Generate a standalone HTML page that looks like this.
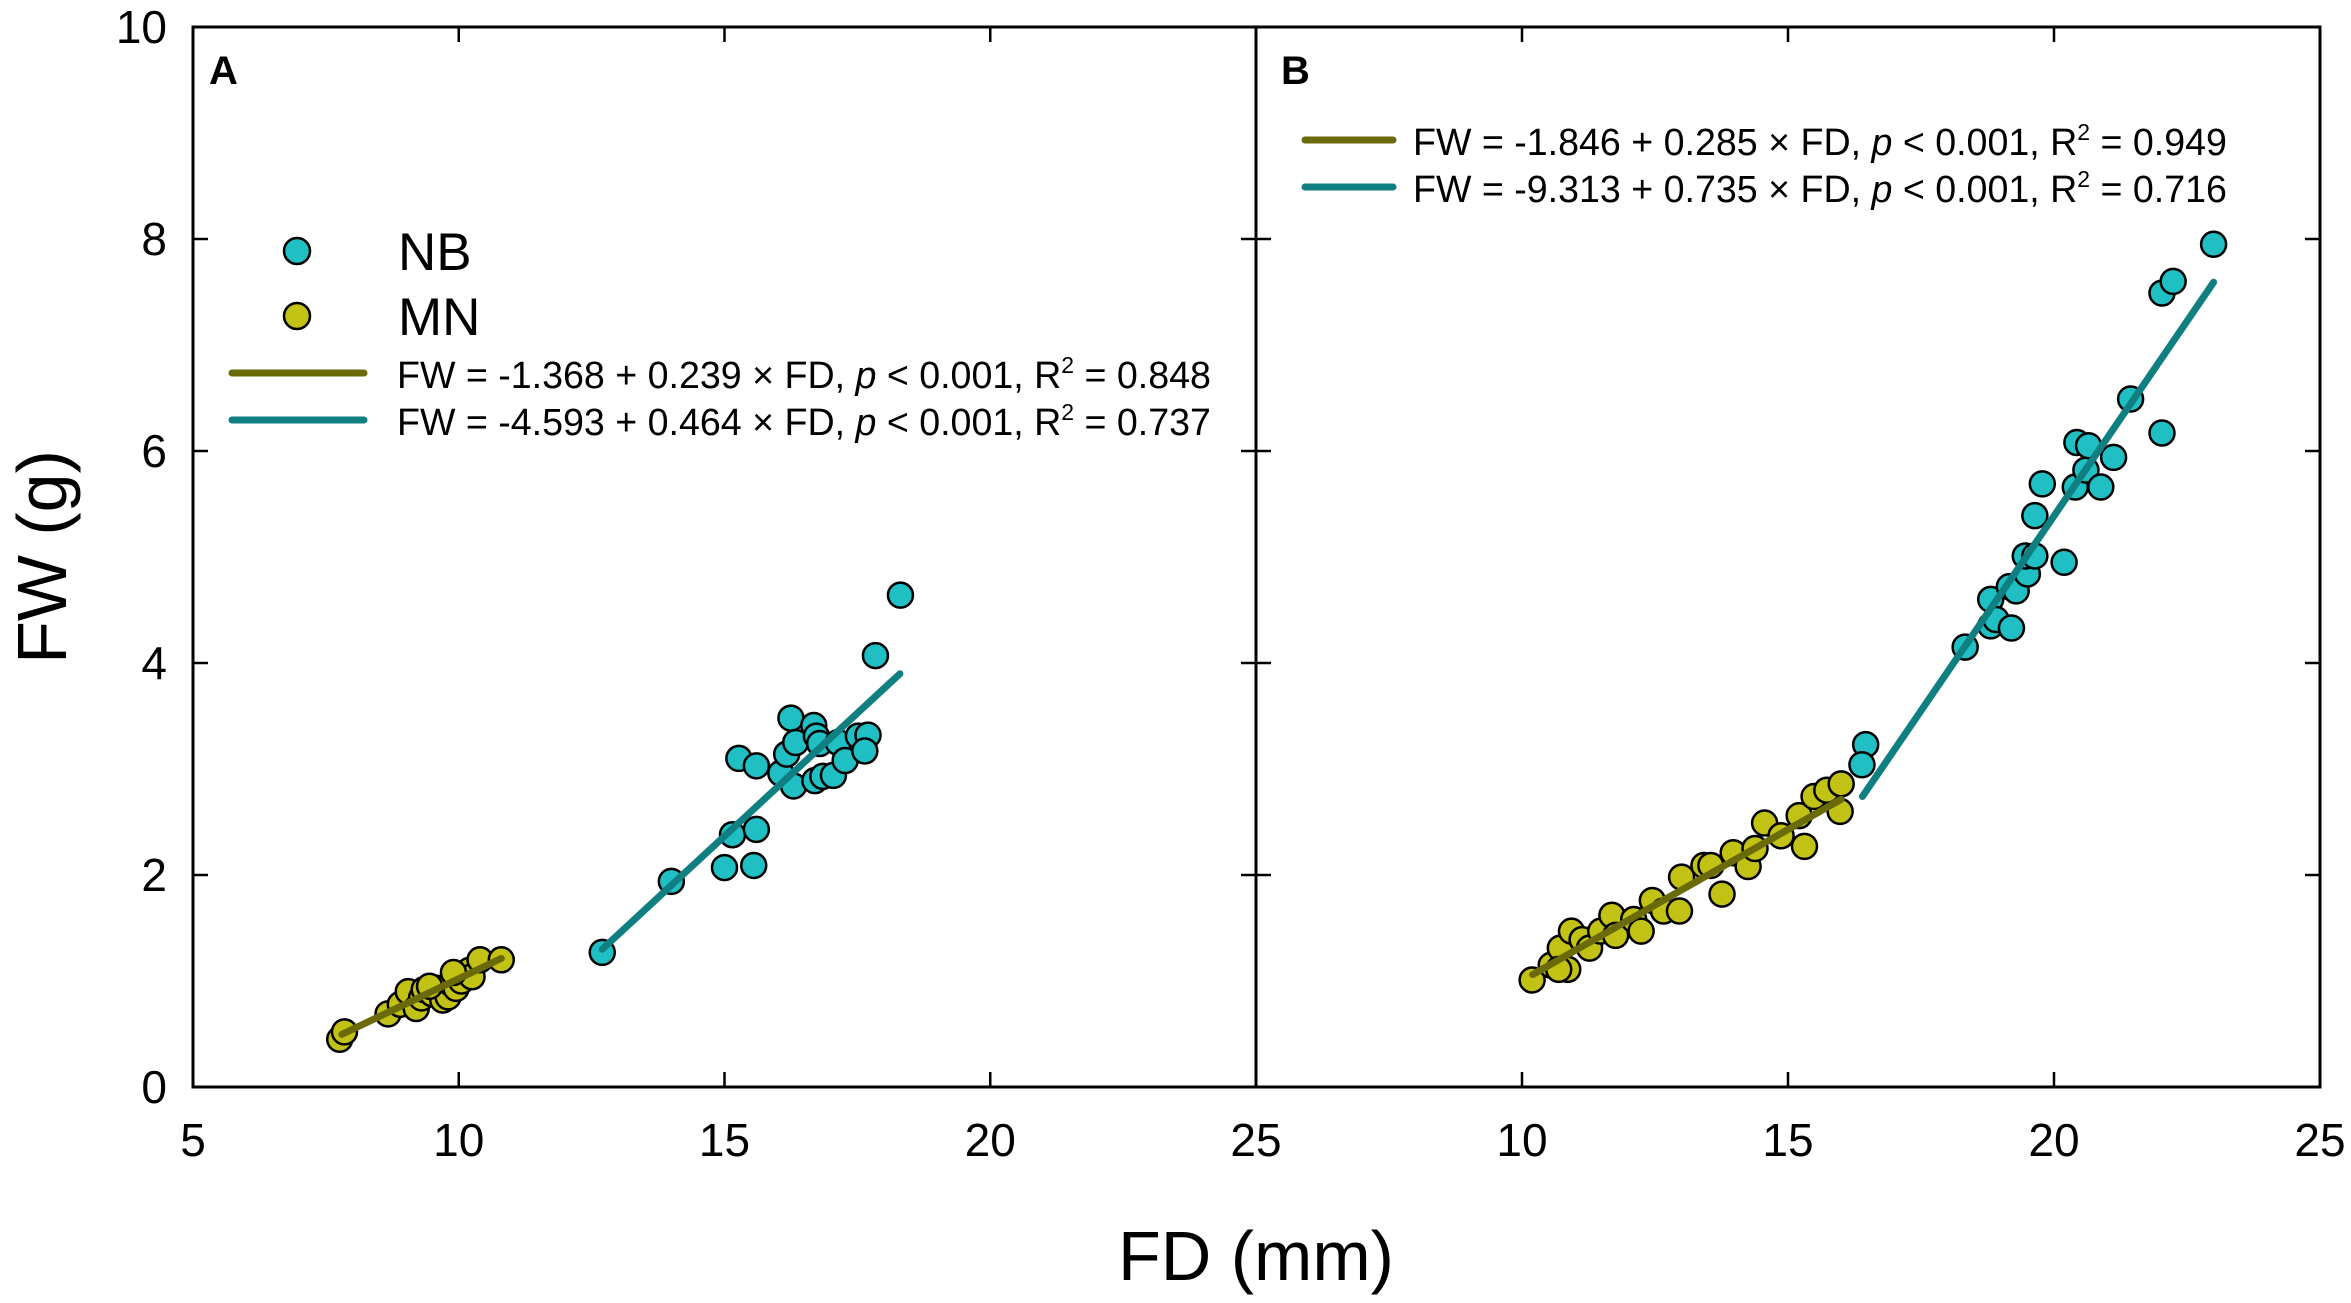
<!DOCTYPE html>
<html><head><meta charset="utf-8"><style>
html,body{margin:0;padding:0;background:#fff;}
svg{display:block;font-family:"Liberation Sans",Arial,sans-serif;}
</style></head><body>
<svg id="chart" width="2351" height="1303" viewBox="0 0 2351 1303" xmlns="http://www.w3.org/2000/svg"></svg>
<script>
// ---- data ----
const xTicks = [5, 10, 15, 20, 25];
const yTicks = [0, 2, 4, 6, 8, 10];
const aNBx = [12.7,14.0,15.0,15.15,15.55,15.6,15.27,15.6,16.06,16.17,16.25,16.34,16.3,16.68,16.73,16.79,16.7,16.85,17.05,17.14,17.27,17.52,17.7,17.64,17.84,18.31];
const aNBy = [1.27,1.94,2.07,2.38,2.09,2.43,3.1,3.03,2.96,3.14,3.48,3.25,2.84,3.41,3.31,3.24,2.89,2.93,2.94,3.25,3.08,3.31,3.32,3.17,4.07,4.64];
const aMNx = [7.76,7.85,8.67,8.9,9.05,9.2,9.3,9.35,9.5,9.6,9.7,9.8,9.85,9.95,10.0,10.05,10.2,10.25,10.4,10.8,9.9,9.45];
const aMNy = [0.45,0.52,0.69,0.78,0.9,0.74,0.84,0.92,0.88,0.93,0.82,0.85,0.98,0.93,1.05,1.0,1.1,1.04,1.2,1.2,1.08,0.95];
const bNBx = [16.46,16.39,18.33,18.81,18.81,18.91,19.16,19.2,19.29,19.5,19.46,19.64,19.64,19.78,20.19,20.4,20.43,20.6,20.65,20.88,21.12,21.44,22.03,22.03,22.24,23.0];
const bNBy = [3.23,3.04,4.15,4.6,4.35,4.41,4.72,4.33,4.68,4.84,5.01,5.01,5.39,5.69,4.95,5.66,6.08,5.82,6.05,5.66,5.94,6.49,6.17,7.49,7.6,7.95];
const bMNx = [10.19,10.55,10.72,10.86,10.93,11.13,11.27,11.48,11.69,11.76,12.1,12.24,12.45,12.66,12.96,13.0,13.42,13.55,13.76,13.97,14.25,14.38,14.56,14.87,15.21,15.31,15.49,15.73,16.0,15.98,10.69];
const bMNy = [1.01,1.15,1.31,1.11,1.47,1.39,1.31,1.47,1.62,1.43,1.58,1.47,1.76,1.66,1.66,1.98,2.09,2.09,1.82,2.21,2.08,2.25,2.49,2.37,2.56,2.27,2.74,2.8,2.86,2.6,1.11];
// regression: [intercept, slope, xmin, xmax]
const aMNfit = [-1.368, 0.239, 7.8, 10.8];
const aNBfit = [-4.593, 0.464, 12.7, 18.3];
const bMNfit = [-1.846, 0.285, 10.2, 16.0];
const bNBfit = [-9.313, 0.735, 16.4, 23.0];

const NS = "http://www.w3.org/2000/svg";
const svg = document.getElementById('chart');
function mk(tag, attrs, parent, text){
  const e = document.createElementNS(NS, tag);
  for (const k in attrs) e.setAttribute(k, attrs[k]);
  if (text !== undefined) e.textContent = text;
  (parent||svg).appendChild(e);
  return e;
}
const Y0 = 1087, YT = 27;
const yS = v => Y0 - (Y0 - YT) * v / 10;
function xScale(left, right){ return v => left + (right-left)*(v-5)/20; }
const NBC = "#1fbfc4", MNC = "#c2c214", NBL = "#0f7f82", MNL = "#6a6a08";

function panel(name, left, right, nbx, nby, mnx, mny, mnfit, nbfit, skipFirst){
  const g = mk('g', {});
  
  
  const xs = xScale(left, right);
  const fr = mk('rect', {x:left, y:YT, width:right-left, height:Y0-YT, fill:'none', stroke:'#000', 'stroke-width':3}, g);
  
  
  xTicks.forEach((t, i) => {
    const x = xs(t);
    if (t>5 && t<25){
      mk('line', {x1:x, x2:x, y1:Y0, y2:Y0-15, stroke:'#000','stroke-width':2.5}, g);
      mk('line', {x1:x, x2:x, y1:YT, y2:YT+15, stroke:'#000','stroke-width':2.5}, g);
    }
    if (skipFirst && i === 0) return;
    const tl = mk('text', {x:x, y:1156, 'font-size':46, 'text-anchor':'middle'}, g, String(t));
    
    
  });
  yTicks.forEach(t => {
    const y = yS(t);
    if (t>0 && t<10){
      mk('line', {x1:left, x2:left+15, y1:y, y2:y, stroke:'#000','stroke-width':2.5}, g);
      mk('line', {x1:right, x2:right-15, y1:y, y2:y, stroke:'#000','stroke-width':2.5}, g);
    }
  });
  mnx.forEach((v,i) => {
    const c = mk('circle', {cx:xs(v), cy:yS(mny[i]), r:12.5, fill:MNC, stroke:'#000', 'stroke-width':2.5}, g);
    
    
  });
  nbx.forEach((v,i) => {
    const c = mk('circle', {cx:xs(v), cy:yS(nby[i]), r:12.5, fill:NBC, stroke:'#000', 'stroke-width':2.5}, g);
    
    
  });
  [[mnfit, MNL, 'mn-fit-line'], [nbfit, NBL, 'nb-fit-line']].forEach(([f, c, n]) => {
    const l = mk('line', {x1:xs(f[2]), y1:yS(f[0]+f[1]*f[2]), x2:xs(f[3]), y2:yS(f[0]+f[1]*f[3]), stroke:c, 'stroke-width':7, 'stroke-linecap':'round'}, g);
    
    
  });
  return g;
}
panel('panel-a', 193, 1256, aNBx, aNBy, aMNx, aMNy, aMNfit, aNBfit, false);
panel('panel-b', 1256, 2320, bNBx, bNBy, bMNx, bMNy, bMNfit, bNBfit, true);

yTicks.forEach(t => {
  const tl = mk('text', {x:167, y:yS(t)+16, 'font-size':46, 'text-anchor':'end'}, svg, String(t));
  
  
});
</script>
<svg style="position:absolute;left:0;top:0" width="2351" height="1303" xmlns="http://www.w3.org/2000/svg" font-family="Liberation Sans, Arial, sans-serif">
  <text x="0" y="0" font-size="70" text-anchor="middle" transform="translate(66,557) rotate(-90)">FW (g)</text>
  <text x="1256" y="1280" font-size="70" text-anchor="middle">FD (mm)</text>
  <text x="209" y="84" font-size="40" font-weight="bold">A</text>
  <text x="1281" y="84" font-size="40" font-weight="bold">B</text>
  <g>
    <circle cx="297" cy="251" r="13" fill="#1fbfc4" stroke="#000" stroke-width="2.5"/>
    <text x="398" y="270" font-size="53">NB</text>
    <circle cx="297" cy="316" r="13" fill="#c2c214" stroke="#000" stroke-width="2.5"/>
    <text x="398" y="335" font-size="53">MN</text>
    <line x1="232" y1="373" x2="364" y2="373" stroke="#6a6a08" stroke-width="7" stroke-linecap="round"/>
    <text x="397" y="388" font-size="37.6">FW = -1.368 + 0.239 × FD, <tspan font-style="italic">p</tspan> &lt; 0.001, R<tspan font-size="23" dy="-15">2</tspan><tspan dy="15"> = 0.848</tspan></text>
    <line x1="232" y1="420" x2="364" y2="420" stroke="#0f7f82" stroke-width="7" stroke-linecap="round"/>
    <text x="397" y="435" font-size="37.6">FW = -4.593 + 0.464 × FD, <tspan font-style="italic">p</tspan> &lt; 0.001, R<tspan font-size="23" dy="-15">2</tspan><tspan dy="15"> = 0.737</tspan></text>
  </g>
  <g>
    <line x1="1305" y1="140" x2="1393" y2="140" stroke="#6a6a08" stroke-width="7" stroke-linecap="round"/>
    <text x="1413" y="155" font-size="37.6">FW = -1.846 + 0.285 × FD, <tspan font-style="italic">p</tspan> &lt; 0.001, R<tspan font-size="23" dy="-15">2</tspan><tspan dy="15"> = 0.949</tspan></text>
    <line x1="1305" y1="187" x2="1393" y2="187" stroke="#0f7f82" stroke-width="7" stroke-linecap="round"/>
    <text x="1413" y="202" font-size="37.6">FW = -9.313 + 0.735 × FD, <tspan font-style="italic">p</tspan> &lt; 0.001, R<tspan font-size="23" dy="-15">2</tspan><tspan dy="15"> = 0.716</tspan></text>
  </g>
</svg>
</body></html>
